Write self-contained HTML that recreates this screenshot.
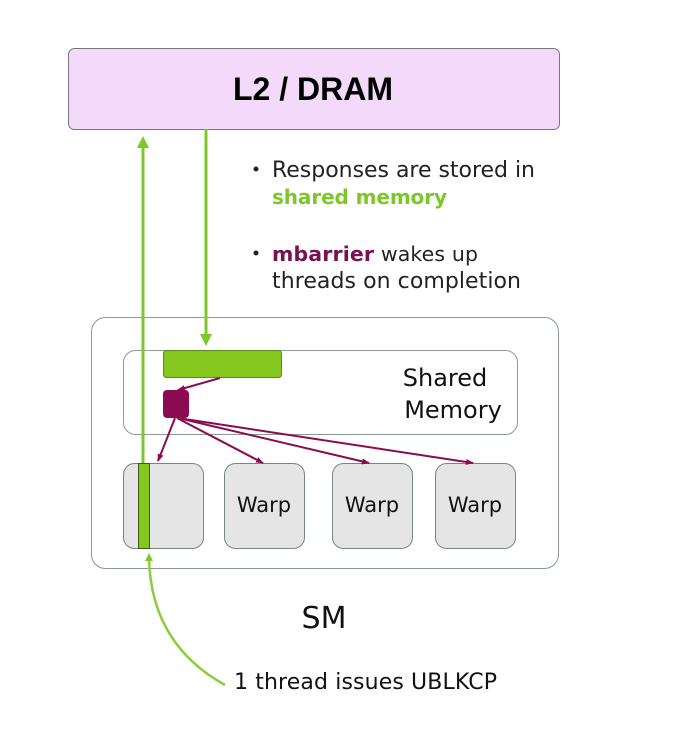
<!DOCTYPE html>
<html><head><style>body{margin:0;background:#fff}svg{display:block}text{font-family:"DejaVu Sans","Liberation Sans",sans-serif}</style></head><body>
<svg width="682" height="754" viewBox="0 0 682 754" xmlns="http://www.w3.org/2000/svg">
<defs>
<marker id="g" markerWidth="8" markerHeight="8" refX="4" refY="4" orient="auto" markerUnits="userSpaceOnUse"><path d="M0,0 L8,4 L0,8 z" fill="#7dc828"/></marker>
<marker id="gb" markerWidth="12" markerHeight="12" refX="6" refY="6" orient="auto" markerUnits="userSpaceOnUse"><path d="M0,0 L12,6 L0,12 z" fill="#7dc828"/></marker>
<marker id="m" markerWidth="8" markerHeight="8" refX="7" refY="4" orient="auto" markerUnits="userSpaceOnUse"><path d="M0,1 L8,4 L0,7 z" fill="#8b0a50"/></marker>
</defs>
<rect x="68.5" y="48.5" width="491" height="81" rx="6" fill="#f3dafb" stroke="#777"/>
<text x="313" y="100" font-size="32" font-weight="bold" text-anchor="middle" style="font-family:'Liberation Sans',sans-serif">L2 / DRAM</text>
<circle cx="256" cy="169" r="2.5" fill="#222"/>
<text x="272" y="177" font-size="22" textLength="263" fill="#222">Responses are stored in</text>
<text x="272" y="204" font-size="20" font-weight="bold" textLength="175" fill="#7dc828">shared memory</text>
<circle cx="256" cy="253" r="2.5" fill="#222"/>
<text x="272" y="261" font-size="20.5" textLength="206" fill="#222"><tspan font-weight="bold" fill="#7a1150">mbarrier</tspan> wakes up</text>
<text x="272" y="288" font-size="22" textLength="249" fill="#222">threads on completion</text>
<rect x="91.5" y="317.5" width="467" height="251" rx="14" fill="#fff" stroke="#8a9a95"/>
<rect x="123.5" y="350.5" width="394" height="84" rx="12" fill="#fff" stroke="#8a9a95"/>
<text x="445" y="386" font-size="24" text-anchor="middle" fill="#111">Shared</text>
<text x="453" y="418" font-size="24" text-anchor="middle" fill="#111">Memory</text>
<g fill="#e5e5e5" stroke="#7a8580">
<rect x="123.5" y="463.5" width="80" height="85" rx="11"/>
<rect x="224.5" y="463.5" width="80" height="85" rx="11"/>
<rect x="332.5" y="463.5" width="80" height="85" rx="11"/>
<rect x="435.5" y="463.5" width="80" height="85" rx="11"/>
</g>
<g font-size="21" fill="#111" text-anchor="middle"><text x="264" y="512">Warp</text><text x="372" y="512">Warp</text><text x="475" y="512">Warp</text></g>
<line x1="143" y1="463" x2="143" y2="142" stroke="#7dc828" stroke-width="3" marker-end="url(#gb)"/>
<line x1="206" y1="129" x2="206" y2="340" stroke="#7dc828" stroke-width="3" marker-end="url(#gb)"/>
<rect x="163.5" y="350.5" width="118" height="27" rx="3" fill="#84c81e" stroke="#5a8a20"/>
<rect x="163" y="390" width="26" height="28" rx="4" fill="#8b0a50"/>
<rect x="138.5" y="463.5" width="11" height="85" fill="#84c81e" stroke="#3d5a20"/>
<g stroke="#8b0a50" stroke-width="2" fill="none">
<line x1="220" y1="378" x2="178" y2="390" marker-end="url(#m)"/>
<line x1="175" y1="418" x2="158" y2="461" marker-end="url(#m)"/>
<line x1="177" y1="418" x2="263" y2="463" marker-end="url(#m)"/>
<line x1="178" y1="418" x2="369" y2="463" marker-end="url(#m)"/>
<line x1="178" y1="418" x2="473" y2="463" marker-end="url(#m)"/>
</g>
<text x="324" y="628" font-size="30" text-anchor="middle" fill="#111">SM</text>
<path d="M225,685 C180,660 150,620 149,557" fill="none" stroke="#8ccc40" stroke-width="2.5" marker-end="url(#g)"/>
<text x="234" y="689" font-size="22" textLength="263" fill="#111">1 thread issues UBLKCP</text>
</svg>
</body></html>
